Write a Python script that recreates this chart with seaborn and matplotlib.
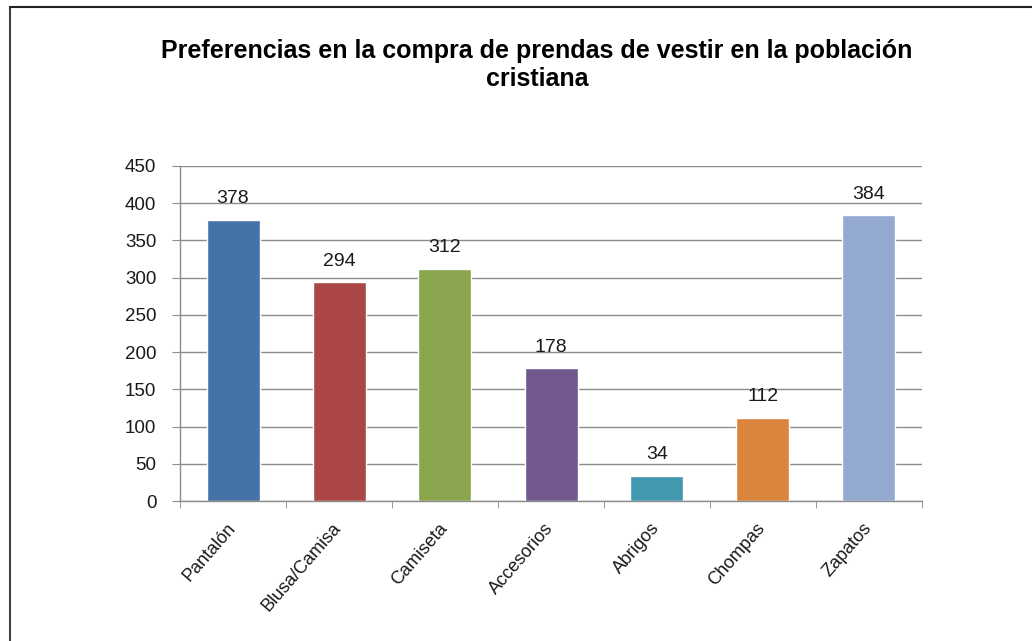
import matplotlib
matplotlib.use("Agg")
import matplotlib.pyplot as plt
import matplotlib.transforms as mtransforms
from matplotlib.lines import Line2D
import numpy as np
import pandas as pd
import seaborn as sns

# Data
categories = ["Pantalón", "Blusa/Camisa", "Camiseta", "Accesorios", "Abrigos", "Chompas", "Zapatos"]
values = [378, 294, 312, 178, 34, 112, 384]
colors = ["#4572A7", "#AA4643", "#89A54E", "#71588F", "#4198AF", "#DB843D", "#93A9CF"]
yticks = [0, 50, 100, 150, 200, 250, 300, 350, 400, 450]
title = "Preferencias en la compra de prendas de vestir en la población\ncristiana"

df = pd.DataFrame({"prenda": categories, "valor": values})

sns.set_style("white")
plt.rcParams["font.family"] = ["Liberation Sans", "DejaVu Sans"]

W, H = 1032, 641
fig = plt.figure(figsize=(W / 100, H / 100), dpi=100)
ax = fig.add_axes([180 / W, 1 - 501 / H, (922 - 180) / W, (501 - 166) / H])

sns.barplot(
    data=df,
    x="prenda",
    y="valor",
    hue="prenda",
    palette=colors,
    width=0.5,
    legend=False,
    saturation=1,
    ax=ax,
)

for c in ax.containers:
    ax.bar_label(c, padding=9, fontsize=14, color="#1a1a1a")

ax.set_ylim(0, 450)
ax.set_xlim(-0.5, len(categories) - 0.5)
ax.set_yticks(yticks)
ax.yaxis.grid(True, color="#8c8c8c", linewidth=1)
ax.set_axisbelow(True)
ax.set_xlabel("")
ax.set_ylabel("")

for side in ["top", "right"]:
    ax.spines[side].set_visible(False)
for side in ["left", "bottom"]:
    ax.spines[side].set_color("#8c8c8c")
    ax.spines[side].set_linewidth(1)

ax.tick_params(axis="y", which="major", left=True, length=6, color="#8c8c8c",
               labelsize=13.5, pad=11)
ax.tick_params(axis="x", which="major", bottom=False, labelsize=13, pad=10)
ax.set_xticks(np.arange(-0.5, len(categories), 1.0), minor=True)
ax.tick_params(axis="x", which="minor", bottom=True, length=5, color="#8c8c8c")
shift = mtransforms.ScaledTranslation(-7 / 100, 0, fig.dpi_scale_trans)
for lab in ax.get_xticklabels():
    lab.set_rotation(49)
    lab.set_ha("right")
    lab.set_va("top")
    lab.set_rotation_mode("anchor")
    lab.set_color("#1a1a1a")
    lab.set_transform(lab.get_transform() + shift)
for lab in ax.get_yticklabels():
    lab.set_color("#1a1a1a")

fig.text(537 / W, 1 - 65 / H, title, ha="center", va="center",
         fontsize=18, fontweight="bold", linespacing=1.25, color="black")

# chart frame (left and top edges)
fig.add_artist(Line2D([9.5 / W, 9.5 / W], [0, 1 - 7 / H], transform=fig.transFigure,
                      color="#404040", linewidth=1.5))
fig.add_artist(Line2D([9.5 / W, 1], [1 - 7 / H, 1 - 7 / H], transform=fig.transFigure,
                      color="#202020", linewidth=1.5))

fig.savefig("out.png", dpi=100)
